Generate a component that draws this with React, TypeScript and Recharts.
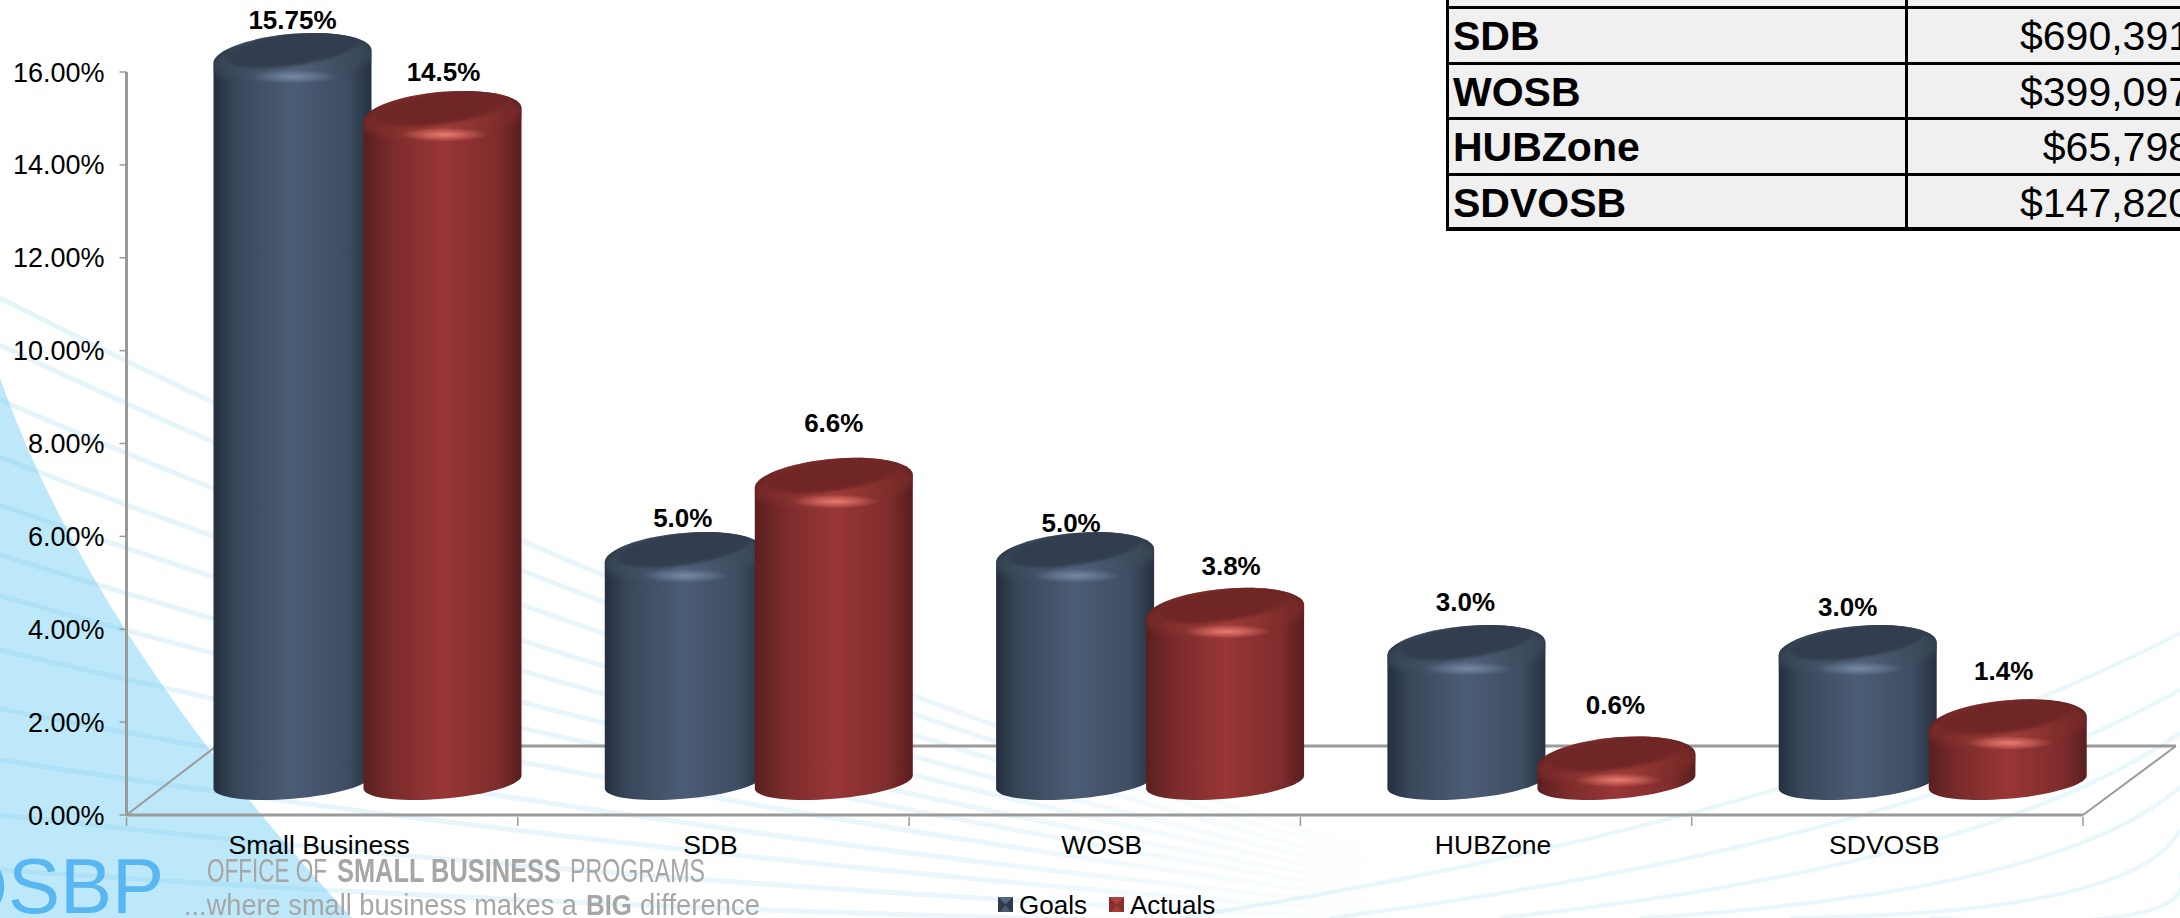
import { Bar, BarChart, LabelList, Legend, XAxis, YAxis } from 'recharts';

const categories = ['Small Business', 'SDB', 'WOSB', 'HUBZone', 'SDVOSB'];
const goalValues = [15.75, 5.0, 5.0, 3.0, 3.0];
const actualValues = [14.5, 6.6, 3.8, 0.6, 1.4];
const goalLabels = ['15.75%', '5.0%', '5.0%', '3.0%', '3.0%'];
const actualLabels = ['14.5%', '6.6%', '3.8%', '0.6%', '1.4%'];
const yTicks = [0, 2, 4, 6, 8, 10, 12, 14, 16];
const tableNames = ['', 'SDB', 'WOSB', 'HUBZone', 'SDVOSB'];
const tableAmounts = ['', '$690,391', '$399,097', '$65,798', '$147,820'];

const data = categories.map((name, i) => ({ name, goals: goalValues[i], actuals: actualValues[i] }));

const FONT = '"Liberation Sans", Arial, sans-serif';
const WIDTH = 2180;
const HEIGHT = 918;
const PLOT_LEFT = 126.5;
const PLOT_RIGHT = 2083;
const PLOT_TOP = 72;
const PLOT_BOTTOM = 815;
const BAND = (PLOT_RIGHT - PLOT_LEFT) / categories.length;
// half of the floor depth, the columns stand in the middle of it
const DEPTH_X = 45;
const DEPTH_Y = 33;
const AXIS_GREY = '#9a9a9a';

// hand placed labels in the original, so they are nudged one by one
const goalNudge = [[0, 31], [-1, 32], [-4, 27], [-1, 41], [-10, 36]];
const actualNudge = [[1, 37], [0, 53], [6, 40], [-1, 49], [-4, 46]];

const palettes = {
  goals: { body: 'url(#bodyGoals)', rim: 'url(#rimGoals)', top: '#333e4f', shine: 'url(#shineGoals)' },
  actuals: { body: 'url(#bodyActuals)', rim: 'url(#rimActuals)', top: '#712825', shine: 'url(#shineActuals)' },
};

const K = 0.5523;
const ELL_K = 6.5;
const ELL_B = 16.8;
const CAP_B = 22.8;
const CAP_DROP = 6;

function upperArc(cx: number, cy: number, a: number, k: number, b: number) {
  return (
    `C ${cx - a} ${cy + k - K * b} ${cx - K * a} ${cy - b + K * k} ${cx} ${cy - b} ` +
    `C ${cx + K * a} ${cy - b - K * k} ${cx + a} ${cy - k - K * b} ${cx + a} ${cy - k}`
  );
}

function lowerArc(cx: number, cy: number, a: number, k: number, b: number) {
  return (
    `C ${cx + a} ${cy - k + K * b} ${cx + K * a} ${cy + b - K * k} ${cx} ${cy + b} ` +
    `C ${cx - K * a} ${cy + b + K * k} ${cx - a} ${cy + k + K * b} ${cx - a} ${cy + k}`
  );
}

function ellipsePath(cx: number, cy: number, a: number, k: number, b: number) {
  return `M ${cx - a} ${cy + k} ${upperArc(cx, cy, a, k, b)} ${lowerArc(cx, cy, a, k, b)} Z`;
}

function Cylinder({ x, y, width, height, index, series }: any) {
  const p = palettes[series as 'goals' | 'actuals'];
  const a = width / 2;
  const cx = x + a + DEPTH_X;
  const top = y - DEPTH_Y;
  const base = y + height - DEPTH_Y;
  const capY = top + CAP_DROP;
  const outline =
    `M ${cx - a} ${capY + ELL_K} ${upperArc(cx, capY, a, ELL_K, CAP_B)} ` +
    `L ${cx + a} ${base - ELL_K} ${lowerArc(cx, base, a, ELL_K, ELL_B)} Z`;
  const clipId = `cyl-${series}-${index}`;
  return (
    <g>
      <clipPath id={clipId}>
        <path d={outline} />
      </clipPath>
      <path d={outline} fill={p.body} />
      <g clipPath={`url(#${clipId})`}>
        <path d={ellipsePath(cx, top + 9, a + 3, ELL_K, 20)} fill={p.rim} filter="url(#soft2)" />
        <path d={ellipsePath(cx, top - 1, a - 12, 9, 16.5)} fill={p.top} filter="url(#soft1)" />
        <ellipse cx={cx + 2} cy={top + 26} rx={44} ry={7} fill={p.shine} />
      </g>
    </g>
  );
}

function BarValueLabel({ x, y, width, index, labels, nudge }: any) {
  return (
    <text
      x={x + width / 2 + DEPTH_X + nudge[index][0]}
      y={y - DEPTH_Y - nudge[index][1] + 9}
      textAnchor="middle"
      fontFamily={FONT}
      fontSize={26}
      fontWeight="bold"
      fill="#000"
    >
      {labels[index]}
    </text>
  );
}

function CategoryTick({ x, y, payload, index }: any) {
  const left = x - BAND / 2;
  return (
    <g>
      <line x1={left} y1={y} x2={left} y2={y + 9} stroke={AXIS_GREY} strokeWidth={1.5} />
      {index === categories.length - 1 && (
        <line x1={x + BAND / 2} y1={y} x2={x + BAND / 2} y2={y + 9} stroke={AXIS_GREY} strokeWidth={1.5} />
      )}
      <text x={x - 3} y={y + 37} textAnchor="middle" fontFamily={FONT} fontSize={26.5} fill="#000">
        {payload.value}
      </text>
    </g>
  );
}

function LegendSwatch({ dark, light }: { dark: string; light: string }) {
  return (
    <svg width={15} height={15} style={{ display: 'block', marginRight: 6, marginTop: 7 }}>
      <rect width={15} height={15} fill={dark} />
      <polygon points="0,0 15,0 7.5,7.5" fill={light} />
      <polygon points="2,15 13,15 7.5,8" fill={light} opacity={0.7} />
    </svg>
  );
}

function LegendContent({ payload }: any) {
  return (
    <div style={{ display: 'flex', fontFamily: FONT, fontSize: 26, lineHeight: '30px', color: '#000' }}>
      {(payload ?? []).map((item: any) => (
        <div key={item.value} style={{ display: 'flex', marginRight: 22 }}>
          <LegendSwatch
            dark={item.value === 'Goals' ? '#2f3b4d' : '#8a2f2d'}
            light={item.value === 'Goals' ? '#55677f' : '#a94440'}
          />
          <span>{item.value}</span>
        </div>
      ))}
    </div>
  );
}

// faint fan of lines behind the plot, part of the slide template
const fanStarts = [298, 345, 400, 457, 505, 555, 596, 650, 709, 760, 815, 870];
const curveEnds = [
  [1180, 918, 633],
  [1330, 918, 690],
  [1500, 918, 733],
  [1640, 918, 787],
  [1790, 918, 830],
  [1930, 918, 872],
];

function Template() {
  return (
    <svg width={WIDTH} height={HEIGHT} style={{ position: 'absolute', left: 0, top: 0 }}>
      <defs>
        <linearGradient id="bodyGoals" x1="0" y1="0" x2="1" y2="0">
          <stop offset="0" stopColor="#242f3e" />
          <stop offset="0.14" stopColor="#384759" />
          <stop offset="0.5" stopColor="#4b5c75" />
          <stop offset="0.85" stopColor="#3e4d62" />
          <stop offset="1" stopColor="#263140" />
        </linearGradient>
        <linearGradient id="bodyActuals" x1="0" y1="0" x2="1" y2="0">
          <stop offset="0" stopColor="#5a1f1f" />
          <stop offset="0.18" stopColor="#7a2b2b" />
          <stop offset="0.5" stopColor="#993636" />
          <stop offset="0.85" stopColor="#7f2c2c" />
          <stop offset="1" stopColor="#581e1e" />
        </linearGradient>
        <linearGradient id="rimGoals" x1="0" y1="0" x2="1" y2="0">
          <stop offset="0" stopColor="#33414f" />
          <stop offset="0.5" stopColor="#50617b" />
          <stop offset="1" stopColor="#35424f" />
        </linearGradient>
        <linearGradient id="rimActuals" x1="0" y1="0" x2="1" y2="0">
          <stop offset="0" stopColor="#702725" />
          <stop offset="0.5" stopColor="#a03c38" />
          <stop offset="1" stopColor="#6e2624" />
        </linearGradient>
        <radialGradient id="shineGoals">
          <stop offset="0" stopColor="#7589a3" />
          <stop offset="1" stopColor="#7589a3" stopOpacity={0} />
        </radialGradient>
        <radialGradient id="shineActuals">
          <stop offset="0" stopColor="#e87c70" />
          <stop offset="1" stopColor="#e87c70" stopOpacity={0} />
        </radialGradient>
        <linearGradient id="fanFade" gradientUnits="userSpaceOnUse" x1="0" y1="0" x2="1400" y2="0">
          <stop offset="0" stopColor="#6cc3e8" stopOpacity={0.18} />
          <stop offset="0.7" stopColor="#6cc3e8" stopOpacity={0.14} />
          <stop offset="1" stopColor="#6cc3e8" stopOpacity={0} />
        </linearGradient>
        <filter id="soft1">
          <feGaussianBlur stdDeviation="1.5" />
        </filter>
        <filter id="soft2">
          <feGaussianBlur stdDeviation="3" />
        </filter>
        <filter id="logoBlur">
          <feGaussianBlur stdDeviation="0.6" />
        </filter>
      </defs>

      <path d="M 0 378 C 50 520 150 700 352 918 L 0 918 Z" fill="#bde8f9" />
      {fanStarts.map((y0, i) => (
        <path
          key={y0}
          d={`M 0 ${y0} Q 650 ${(y0 + 880) / 2 + 40} 1400 ${860 + i * 6}`}
          fill="none"
          stroke="url(#fanFade)"
          strokeWidth={5}
        />
      ))}
      {curveEnds.map(([x0, y0, y1]) => (
        <path
          key={x0}
          d={`M ${x0} ${y0} Q ${(x0 + WIDTH) / 2 + 150} ${(y0 + y1) / 2 + 40} ${WIDTH} ${y1}`}
          fill="none"
          stroke="#bde8f4"
          strokeOpacity={0.35}
          strokeWidth={4}
        />
      ))}

      {/* floor of the 3D plot */}
      <g stroke={AXIS_GREY} fill="none">
        <line x1={PLOT_LEFT} y1={PLOT_BOTTOM} x2={PLOT_LEFT + DEPTH_X * 2} y2={PLOT_BOTTOM - DEPTH_Y * 2 - 3} strokeWidth={2} />
        <line x1={PLOT_LEFT + DEPTH_X * 2} y1={PLOT_BOTTOM - DEPTH_Y * 2 - 3} x2={PLOT_RIGHT + 93} y2={PLOT_BOTTOM - DEPTH_Y * 2 - 3} strokeWidth={3} />
        <line x1={PLOT_RIGHT + 93} y1={PLOT_BOTTOM - DEPTH_Y * 2 - 3} x2={PLOT_RIGHT} y2={PLOT_BOTTOM} strokeWidth={2} />
      </g>

      <text x={164} y={913} textAnchor="end" fontFamily={FONT} fontSize={78} fill="#58b6f0">
        OSBP
      </text>
      <g fontFamily={FONT} fill="#a6a6a6" filter="url(#logoBlur)">
        <text x={207} y={882} fontSize={33} textLength={120} lengthAdjust="spacingAndGlyphs">OFFICE OF</text>
        <text x={337} y={882} fontSize={33} fontWeight="bold" textLength={224} lengthAdjust="spacingAndGlyphs">SMALL BUSINESS</text>
        <text x={570} y={882} fontSize={33} textLength={135} lengthAdjust="spacingAndGlyphs">PROGRAMS</text>
        <text x={184} y={915} fontSize={30} textLength={393} lengthAdjust="spacingAndGlyphs">...where small business makes a</text>
        <text x={586} y={915} fontSize={30} fontWeight="bold" textLength={46} lengthAdjust="spacingAndGlyphs">BIG</text>
        <text x={640} y={915} fontSize={30} textLength={120} lengthAdjust="spacingAndGlyphs">difference</text>
      </g>
    </svg>
  );
}

function AmountsTable() {
  const rowTop = (i: number) => 7 + (i - 1) * 55.6;
  return (
    <div
      style={{
        position: 'absolute',
        left: 1446,
        top: -49,
        width: WIDTH - 1446,
        height: 276,
        overflow: 'hidden',
        background: '#f0f0f0',
        fontFamily: FONT,
        fontSize: 41,
        color: '#000',
        borderBottom: '4px solid #000',
        borderLeft: '3px solid #000',
      }}
    >
      {tableNames.map((name, i) => (
        <div key={i}>
          <div style={{ position: 'absolute', left: 0, right: 0, top: rowTop(i) + 48, height: 3, background: '#000' }} />
          <div style={{ position: 'absolute', left: 4, top: rowTop(i) + 53, lineHeight: '50px', fontWeight: 'bold' }}>{name}</div>
          <div style={{ position: 'absolute', left: 459, width: 283, textAlign: 'right', top: rowTop(i) + 53, lineHeight: '50px' }}>
            {tableAmounts[i]}
          </div>
        </div>
      ))}
      <div style={{ position: 'absolute', left: 456, top: 0, bottom: 0, width: 3, background: '#000' }} />
    </div>
  );
}

export default function App() {
  return (
    <div style={{ position: 'absolute', left: 0, top: 0, width: WIDTH, height: HEIGHT, overflow: 'hidden', background: '#fff' }}>
      <Template />
      <div style={{ position: 'absolute', left: 0, top: 0 }}>
        <BarChart
          width={WIDTH}
          height={HEIGHT}
          data={data}
          barSize={158}
          barGap={-8}
          margin={{ top: PLOT_TOP, right: WIDTH - PLOT_RIGHT, bottom: 43, left: 0 }}
        >
          <XAxis
            dataKey="name"
            height={HEIGHT - PLOT_BOTTOM - 43}
            axisLine={{ stroke: AXIS_GREY, strokeWidth: 3 }}
            tickLine={false}
            tickSize={0}
            tick={CategoryTick}
            interval={0}
          />
          <YAxis
            width={PLOT_LEFT}
            domain={[0, 16]}
            ticks={yTicks}
            tickSize={7}
            tickMargin={15}
            tick={{ fontFamily: FONT, fontSize: 27, fill: '#000' }}
            tickLine={{ stroke: AXIS_GREY, strokeWidth: 1.5 }}
            axisLine={{ stroke: AXIS_GREY, strokeWidth: 3 }}
            tickFormatter={(v: number) => `${v.toFixed(2)}%`}
          />
          <Legend
            layout="horizontal"
            verticalAlign="middle"
            align="center"
            itemSorter={null}
            wrapperStyle={{ left: 998, top: 890, width: 300 }}
            content={LegendContent}
          />
          <Bar
            dataKey="goals"
            name="Goals"
            fill="#3d4d64"
            isAnimationActive={false}
            shape={(props: any) => <Cylinder {...props} series="goals" />}
          >
            <LabelList dataKey="goals" content={(props: any) => <BarValueLabel {...props} labels={goalLabels} nudge={goalNudge} />} />
          </Bar>
          <Bar
            dataKey="actuals"
            name="Actuals"
            fill="#8a2f2d"
            isAnimationActive={false}
            shape={(props: any) => <Cylinder {...props} series="actuals" />}
          >
            <LabelList dataKey="actuals" content={(props: any) => <BarValueLabel {...props} labels={actualLabels} nudge={actualNudge} />} />
          </Bar>
        </BarChart>
      </div>
      <AmountsTable />
    </div>
  );
}
